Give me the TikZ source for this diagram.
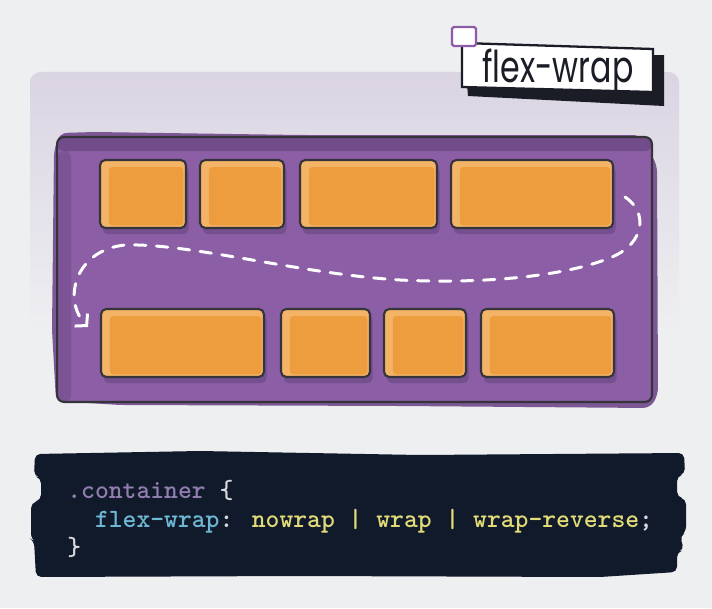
\documentclass[tikz,border=0pt]{standalone}
\usepackage{fontspec}
\usepackage{tikz}
\usetikzlibrary{arrows.meta,positioning}
\newfontfamily\titlefont[FakeStretch=0.72]{Poppins}
\definecolor{bgcol}{HTML}{EEEFF1}
\definecolor{panelcol}{HTML}{DAD4E3}
\definecolor{flexpurple}{HTML}{8B5EA6}
\definecolor{flexdark}{HTML}{704C8A}
\definecolor{smudge}{HTML}{7B5794}
\definecolor{itemorange}{HTML}{ED9C3E}
\definecolor{itemlight}{HTML}{F3B468}
\definecolor{itemshade}{HTML}{74508F}
\definecolor{edgecol}{HTML}{35343A}
\definecolor{codebg}{HTML}{101A2B}
\definecolor{codepurple}{HTML}{917DAF}
\definecolor{codecyan}{HTML}{6EB8D3}
\definecolor{codeyellow}{HTML}{E2DB78}
\definecolor{codewhite}{HTML}{D8D8DC}
\definecolor{tagpurple}{HTML}{8E5BA8}
\definecolor{titleink}{HTML}{1A1C26}

\begin{document}
\begin{tikzpicture}[x=0.02cm, y=-0.02cm,
  item/.style={draw=edgecol, line width=1.2pt, rounded corners=3pt, fill=itemlight,
    minimum height=1.36cm, inner sep=0pt,
    preaction={fill=itemshade, transform canvas={xshift=1.5pt, yshift=-3.5pt}},
    path picture={\fill[itemorange, rounded corners=2pt]
      ([xshift=5pt,yshift=-4pt]path picture bounding box.north west) rectangle
      ([xshift=-1.5pt,yshift=1.5pt]path picture bounding box.south east);}},
  flexbox/.style={draw=edgecol, line width=1.2pt, rounded corners=4pt, fill=flexpurple,
    minimum width=11.9cm, minimum height=5.3cm, inner sep=0pt,
    path picture={
      \fill[flexdark] (path picture bounding box.north west) rectangle
        ([yshift=-8pt]path picture bounding box.north east);
      \fill[flexdark, opacity=0.55] ([yshift=-8pt]path picture bounding box.north west) rectangle
        ([xshift=8pt]path picture bounding box.south west);}},
  wrapline/.style={draw=white, line width=1.7pt, dash pattern=on 6.5pt off 6pt, line cap=round,
    -{Straight Barb[length=1.6mm, width=3.6mm]}},
  code/.style={font=\ttfamily\bfseries\fontsize{15pt}{17pt}\selectfont, inner sep=0pt, anchor=base west}]
% sfondo
\useasboundingbox (0,0) rectangle (712,608);
\fill[bgcol] (0,0) rectangle (712,608);
\shade[top color=panelcol, bottom color=bgcol, rounded corners=6pt] (30,72) rectangle (679,330);

% contenitore
\fill[smudge, rounded corners=4pt] (54,150) -- (60,133) -- (95,132) -- (300,135) -- (640,135)
  -- (657,165) -- (658,395) -- (650,408) -- (400,406) -- (120,405) -- (56,401) -- (52,330) -- cycle;
\node[flexbox] (box) at (354.5,269.5) {};

% prima riga
\node[item, minimum width=1.72cm] (t1) at (143,194) {};
\node[item, minimum width=1.68cm] (t2) at (242,194) {};
\node[item, minimum width=2.74cm] (t3) at (368.5,194) {};
\node[item, minimum width=3.24cm] (t4) at (532,194) {};
% seconda riga
\node[item, minimum width=3.26cm] (b1) at (182.5,343) {};
\node[item, minimum width=1.78cm] (b2) at (325.5,343) {};
\node[item, minimum width=1.64cm] (b3) at (425,343) {};
\node[item, minimum width=2.66cm] (b4) at (547.5,343) {};

% a capo
\coordinate (wstart) at (625,197);
\coordinate (wend) at (88,327);
\draw[wrapline] (wstart) .. controls (648,212) and (645,243) .. (612,257)
  .. controls (565,277) and (480,284) .. (400,280)
  .. controls (300,274) and (190,243) .. (125,245)
  .. controls (75,250) and (62,300) .. (wend);

% etichetta
\fill[titleink] (465,58) -- (664,55) -- (664,106) -- (468,96) -- cycle;
\filldraw[fill=white, draw=titleink, line width=1.3pt] (462,43) -- (653,49) -- (653,92) -- (462,87) -- cycle;
\node[font=\titlefont\fontsize{25pt}{28pt}\selectfont, text=titleink, anchor=base, inner sep=0pt]
  (title) at (558,83) {flex-wrap};
\filldraw[fill=white, draw=tagpurple, line width=1.3pt, rounded corners=1pt] (452,27) rectangle (476,46);

% codice
\fill[codebg, rounded corners=3pt] (35,454) -- (200,451) -- (420,455) -- (684,453) -- (685,474)
  -- (677,476) -- (677,497) -- (686,499) -- (686,532) -- (680,536) -- (684,550) -- (677,552)
  -- (677,572) -- (600,577) -- (300,576) -- (36,577) -- (34,541) -- (31,539) -- (31,503)
  -- (41,500) -- (41,478) -- (34,476) -- cycle;
\node[code] (line1) at (67,498.5) {\textcolor{codepurple}{.container} \textcolor{codewhite}{\{}};
\node[code] (line2) at (67,527) {\hphantom{00}\textcolor{codecyan}{flex-wrap}\textcolor{codewhite}{:}
  \textcolor{codeyellow}{nowrap | wrap | wrap-reverse}\textcolor{codewhite}{;}};
\node[code] (line3) at (67,555.5) {\textcolor{codewhite}{\}}};
\end{tikzpicture}
\end{document}
